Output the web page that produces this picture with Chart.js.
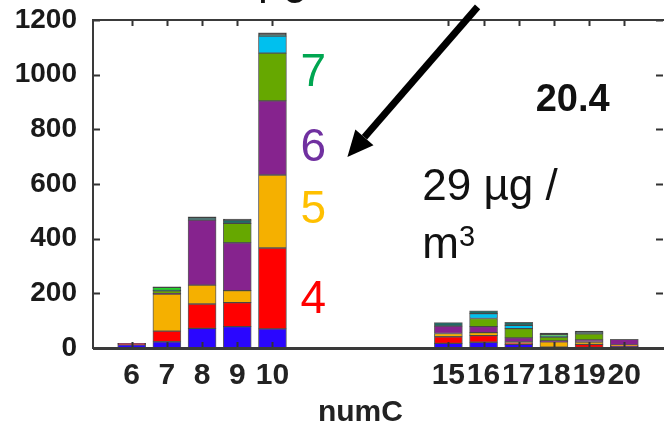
<!DOCTYPE html>
<html>
<head>
<meta charset="utf-8">
<script src="https://cdn.jsdelivr.net/npm/chart.js@4"></script>
<style>
  html, body { margin: 0; padding: 0; background: #fff; }
  #wrap { width: 664px; height: 432px; position: relative; }
</style>
</head>
<body>
<div id="wrap"><canvas id="chart"></canvas></div>
<script>
// numC categories and y ticks
const categories = [6, 7, 8, 9, 10, 15, 16, 17, 18, 19, 20];
const yTicks = [0, 200, 400, 600, 800, 1000, 1200];

// stacked layers, bottom to top
const blueVals   = [12, 23, 72, 78, 70, 17, 21, 13, 1, 2, 6];
const redVals    = [4, 39, 89, 88, 296, 24, 24, 7, 2, 11, 2];
const orangeVals = [0, 135, 69, 44, 267, 12, 11, 2, 20, 9, 3];
const purpleVals = [1, 2, 238, 175, 271, 27, 22, 15, 3, 8, 21];
const greenVals  = [0, 10, 0, 71, 175, 0, 30, 34, 14, 22, 0];
const cyanVals   = [0, 0, 0, 0, 62, 0, 18, 12, 0, 0, 0];
const tealVals   = [0, 2, 8, 12, 4, 13, 10, 11, 3, 6, 0];
const limeVals   = [0, 11, 0, 0, 0, 0, 0, 0, 7, 0, 0];
const blackVals  = [0, 2, 4, 4, 8, 0, 0, 0, 5, 4, 0];

const layers = [
  { vals: blueVals, color: "#2a06ff" },
  { vals: redVals, color: "#ff0000" },
  { vals: orangeVals, color: "#f5b000" },
  { vals: purpleVals, color: "#86238e" },
  { vals: greenVals, color: "#66a800" },
  { vals: cyanVals, color: "#00c0ee" },
  { vals: tealVals, color: "#1f6b66" },
  { vals: limeVals, color: "#22d42a" },
  { vals: blackVals, color: "#141414" }
];

const FONT = "'Liberation Sans', Arial, sans-serif";

// frame, inward ticks and text notes
const extras = {
  id: "extras",
  afterDatasetsDraw(chart) {
    const { ctx, chartArea: a, scales: { x, y } } = chart;
    ctx.save();
    ctx.strokeStyle = "#333";
    ctx.lineWidth = 2;
    // inward ticks on x (top and bottom)
    categories.forEach(c => {
      const px = Math.round(x.getPixelForValue(c)) + 0.5;
      ctx.beginPath();
      ctx.moveTo(px, a.bottom); ctx.lineTo(px, a.bottom - 6);
      ctx.moveTo(px, a.top); ctx.lineTo(px, a.top + 6);
      ctx.stroke();
    });
    // inward ticks on y (left and right)
    yTicks.forEach(v => {
      const py = Math.round(y.getPixelForValue(v)) + 0.5;
      ctx.beginPath();
      ctx.moveTo(a.left, py); ctx.lineTo(a.left + 7, py);
      ctx.moveTo(a.right, py); ctx.lineTo(a.right - 7, py);
      ctx.stroke();
    });
    // frame
    ctx.strokeStyle = "#3a3a3a";
    ctx.lineWidth = 2;
    ctx.strokeRect(a.left, a.top, a.right - a.left + 4, a.bottom - a.top);
    ctx.lineWidth = 3;
    ctx.beginPath();
    ctx.moveTo(a.left, a.bottom + 0.5); ctx.lineTo(chart.width, a.bottom + 0.5);
    ctx.stroke();
    ctx.restore();
  },
  afterDraw(chart) {
    const { ctx, scales: { x, y } } = chart;
    ctx.save();
    ctx.textBaseline = "middle";
    ctx.textAlign = "left";

    // size class labels next to the tall bar
    const notes = [
      { t: "7", c: "#00a651", v: 1006 },
      { t: "6", c: "#7030a0", v: 732 },
      { t: "5", c: "#ffc000", v: 505 },
      { t: "4", c: "#ff0000", v: 176 }
    ];
    ctx.font = `46px ${FONT}`;
    notes.forEach(n => {
      ctx.fillStyle = n.c;
      ctx.fillText(n.t, x.getPixelForValue(10.8), y.getPixelForValue(n.v));
    });

    ctx.fillStyle = "#111";
    ctx.font = `bold 38px ${FONT}`;
    ctx.fillText("20.4", x.getPixelForValue(17.48), y.getPixelForValue(905));

    ctx.textBaseline = "alphabetic";
    ctx.font = `44px ${FONT}`;
    ctx.fillText("29 \u00b5g /", x.getPixelForValue(14.26), y.getPixelForValue(541));
    ctx.fillText("m", x.getPixelForValue(14.26), y.getPixelForValue(329));
    ctx.font = `29px ${FONT}`;
    ctx.fillText("3", x.getPixelForValue(15.3), y.getPixelForValue(372));

    // cut-off text at the very top
    ctx.font = `44px ${FONT}`;
    ctx.fillText("\u00b5g", 258, -6);

    // axis title
    ctx.fillStyle = "#222";
    ctx.textAlign = "center";
    ctx.textBaseline = "middle";
    ctx.font = `bold 30px ${FONT}`;
    ctx.fillText("numC", x.getPixelForValue(12.5), 413);

    // arrow
    const x0 = x.getPixelForValue(15.83), y0 = y.getPixelForValue(1248);
    const x1 = x.getPixelForValue(12.13), y1 = y.getPixelForValue(699);
    const ang = Math.atan2(y1 - y0, x1 - x0);
    const head = 26, hw = 12;
    const bx = x1 - head * Math.cos(ang), by = y1 - head * Math.sin(ang);
    ctx.strokeStyle = "#000";
    ctx.lineWidth = 7;
    ctx.beginPath();
    ctx.moveTo(x0, y0); ctx.lineTo(bx, by);
    ctx.stroke();
    ctx.fillStyle = "#000";
    ctx.beginPath();
    ctx.moveTo(x1, y1);
    ctx.lineTo(bx + hw * Math.sin(ang), by - hw * Math.cos(ang));
    ctx.lineTo(bx - hw * Math.sin(ang), by + hw * Math.cos(ang));
    ctx.closePath();
    ctx.fill();
    ctx.restore();
  }
};

new Chart(document.getElementById("chart"), {
  type: "bar",
  data: {
    datasets: layers.map(l => ({
      data: categories.map((c, i) => ({ x: c, y: l.vals[i] || null })),
      backgroundColor: l.color,
      borderColor: "rgba(40,40,40,0.75)",
      borderWidth: 1,
      borderSkipped: false,
      barThickness: 28
    }))
  },
  options: {
    responsive: true,
    maintainAspectRatio: false,
    animation: false,
    layout: { padding: { top: 20, right: 1, left: 0, bottom: 0 } },
    plugins: { legend: { display: false }, tooltip: { enabled: false } },
    scales: {
      x: {
        type: "linear",
        stacked: true,
        offset: false,
        min: 4.9,
        max: 21.1,
        grid: { display: false, drawTicks: false, offset: false },
        border: { display: false },
        afterBuildTicks: axis => { axis.ticks = categories.map(v => ({ value: v })); },
        afterFit: axis => {
          axis.height = 84;
          axis.paddingLeft = 0; axis.paddingRight = 0;
        },
        ticks: {
          autoSkip: false,
          maxRotation: 0,
          padding: 10,
          color: "#222",
          font: { family: FONT, size: 30, weight: "bold" },
          callback: v => String(v)
        }
      },
      y: {
        stacked: true,
        min: 0,
        max: 1200,
        grid: { display: false, drawTicks: false },
        border: { display: false },
        afterBuildTicks: axis => { axis.ticks = yTicks.map(v => ({ value: v })); },
        afterFit: axis => {
          axis.width = 93;
          axis.paddingTop = 0; axis.paddingBottom = 0;
        },
        ticks: {
          padding: 16,
          color: "#1a1a1a",
          font: { family: FONT, size: 28, weight: "bold" },
          callback: v => String(v)
        }
      }
    }
  },
  plugins: [extras]
});
</script>
</body>
</html>
